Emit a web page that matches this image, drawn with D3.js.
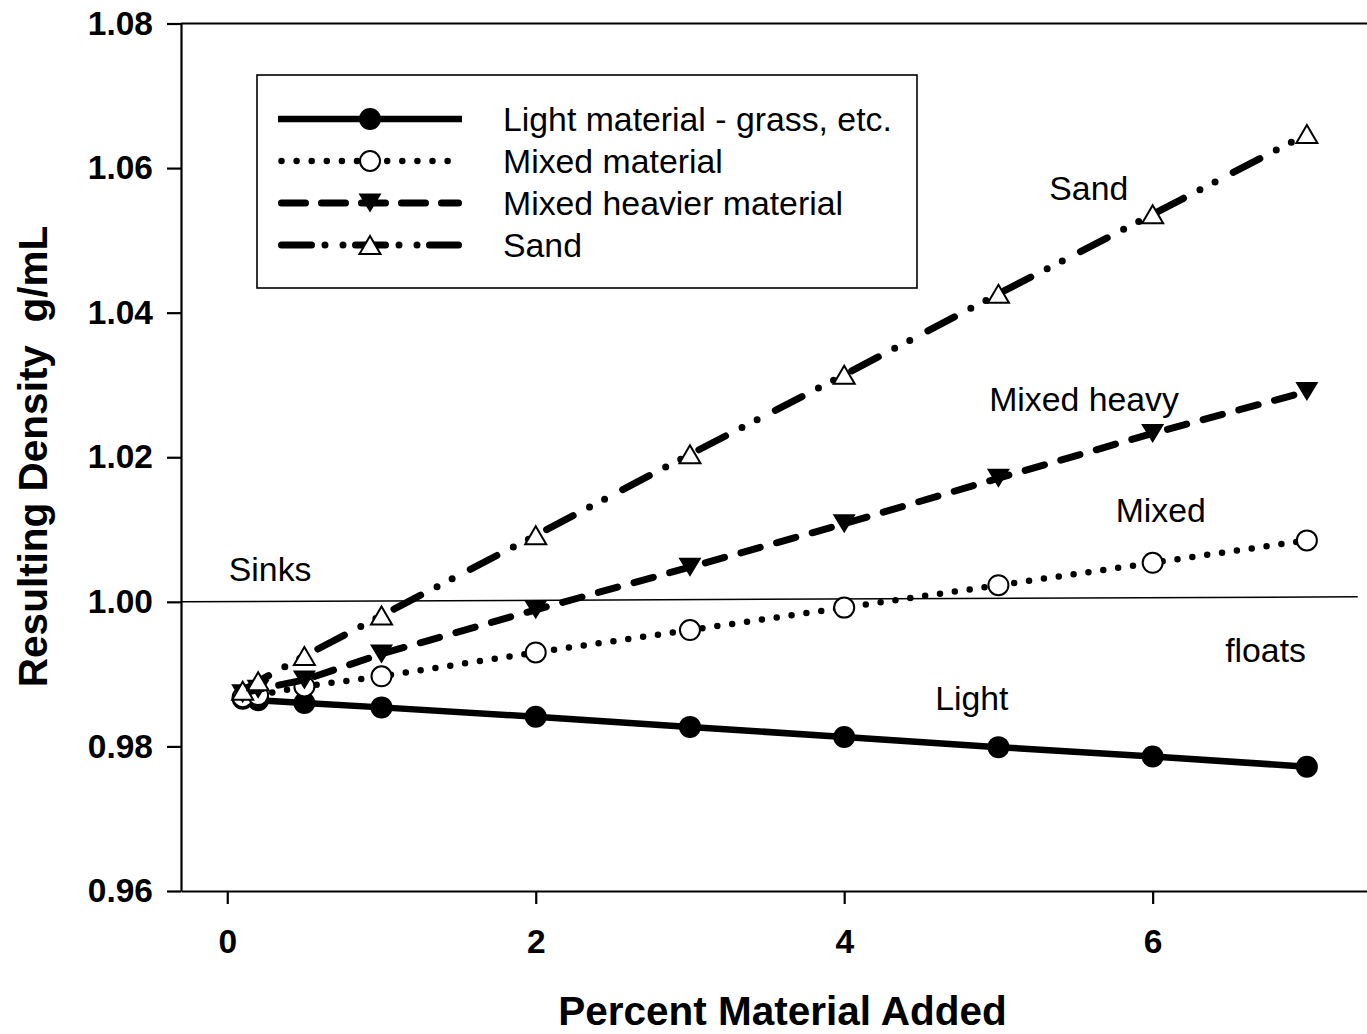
<!DOCTYPE html>
<html>
<head>
<meta charset="utf-8">
<script src="https://cdn.jsdelivr.net/npm/d3@7"></script>
<style>
  html, body { margin: 0; padding: 0; background: #fff; }
  svg { display: block; overflow: hidden; }
  text { font-family: "Liberation Sans", Arial, Helvetica, sans-serif; fill: #000; }
</style>
</head>
<body>
<svg id="chart" width="1367" height="1034"></svg>
<script>
// Percent of material added to the water sample
const percentAdded = [0.1, 0.2, 0.5, 1, 2, 3, 4, 5, 6, 7];

// Resulting density (g/mL) for each kind of material
const lightDensity = [0.9866, 0.9864, 0.9860, 0.9854, 0.9841, 0.9827, 0.9813, 0.9799, 0.9786, 0.9772];
const mixedDensity = [0.9868, 0.9871, 0.9883, 0.9897, 0.9930, 0.9961, 0.9992, 1.0023, 1.0054, 1.0085];
const heavyDensity = [0.9873, 0.9879, 0.9892, 0.9928, 0.9989, 1.0048, 1.0108, 1.0171, 1.0233, 1.0291];
const sandDensity  = [0.9877, 0.9890, 0.9925, 0.9981, 1.0092, 1.0204, 1.0314, 1.0426, 1.0536, 1.0647];

const seriesNames = ["Light material - grass, etc.", "Mixed material", "Mixed heavier material", "Sand"];

// Axis ticks
const xTicks = [0, 2, 4, 6];
const yTicks = [0.96, 0.98, 1.00, 1.02, 1.04, 1.06, 1.08];

// Density of water: the sink / float boundary
const waterLineX = [-0.3, 7.33];
const waterLineY = [1.0000, 1.0007];

// Free text notes placed in data coordinates
const noteLabels = ["Sand", "Mixed heavy", "Mixed", "Sinks", "floats", "Light"];
const noteX = [5.33, 4.94, 5.76, 0.01, 6.47, 4.59];
const noteY = [1.0556, 1.0264, 1.0110, 1.0029, 0.9917, 0.9850];

const svg = d3.select("#chart");
svg.append("rect").attr("width", 1367).attr("height", 1034).attr("fill", "#fff");

const x = d3.scaleLinear().domain([-0.3, 7.5]).range([181, 1384]);
const y = d3.scaleLinear().domain([0.96, 1.08]).range([891, 23.5]);

// Line + marker styles per series (legendDash: pattern phased for the short legend sample)
const styles = [
  { width: 6.5, dash: null, legendDash: null, cap: "butt", marker: "filledCircle" },
  { width: 6.5, dash: "0 15", legendDash: "0 15.1", cap: "round", marker: "openCircle" },
  { width: 7, dash: "20 17", legendDash: "24 16", cap: "round", marker: "downTriangle" },
  { width: 7, dash: "30 18.5 0 17 0 20.5", legendDash: "30 13.5 0 18 0 12.5", cap: "round", marker: "openUpTriangle" }
];
const seriesValues = [lightDensity, mixedDensity, heavyDensity, sandDensity];

function drawMarker(g, kind) {
  if (kind === "filledCircle") {
    g.append("circle").attr("r", 11).attr("fill", "#000");
  } else if (kind === "openCircle") {
    g.append("circle").attr("r", 10).attr("fill", "#fff").attr("stroke", "#000").attr("stroke-width", 2);
  } else if (kind === "downTriangle") {
    g.append("path").attr("d", "M-11.5,-9.5L11.5,-9.5L0,9.5Z").attr("fill", "#000");
  } else {
    g.append("path").attr("d", "M0,-9L10.5,9L-10.5,9Z").attr("fill", "#fff")
      .attr("stroke", "#000").attr("stroke-width", 2).attr("stroke-linejoin", "miter");
  }
}

// Axes frame
const axisG = svg.append("g");
const yAxis = d3.axisLeft(y).tickValues(yTicks).tickSize(14).tickSizeOuter(0).tickPadding(14)
  .tickFormat(d3.format(".2f"));
const gy = axisG.append("g").attr("transform", `translate(${x(-0.3)},0)`).call(yAxis);
const xAxis = d3.axisBottom(x).tickValues(xTicks).tickSize(13).tickSizeOuter(0).tickPadding(25)
  .tickFormat(d3.format("d"));
const gx = axisG.append("g").attr("transform", `translate(0,${y(0.96)})`).call(xAxis);
[gx, gy].forEach(g => {
  g.select(".domain").attr("stroke", "#000").attr("stroke-width", 2.2);
  g.selectAll(".tick line").attr("stroke", "#000").attr("stroke-width", 2.2);
  g.selectAll(".tick text").attr("font-size", 33.5).attr("font-weight", "bold")
    .attr("font-family", "'Liberation Sans', Arial, sans-serif").attr("fill", "#000");
});
// top border of the plot frame
axisG.append("line")
  .attr("x1", x(-0.3)).attr("x2", x(7.5)).attr("y1", y(1.08)).attr("y2", y(1.08))
  .attr("stroke", "#000").attr("stroke-width", 2.2);

// Water density reference line
svg.append("line")
  .attr("x1", x(waterLineX[0])).attr("y1", y(waterLineY[0]))
  .attr("x2", x(waterLineX[1])).attr("y2", y(waterLineY[1]))
  .attr("stroke", "#000").attr("stroke-width", 1.5);

// Series
const line = d3.line().x(d => x(d[0])).y(d => y(d[1]));
seriesValues.forEach((vals, i) => {
  const pts = percentAdded.map((p, j) => [p, vals[j]]);
  const st = styles[i];
  svg.append("path").datum(pts).attr("d", line)
    .attr("fill", "none").attr("stroke", "#000").attr("stroke-width", st.width)
    .attr("stroke-linecap", st.cap).attr("stroke-linejoin", "round")
    .attr("stroke-dasharray", st.dash);
  svg.append("g").selectAll("g").data(pts).join("g")
    .attr("transform", d => `translate(${x(d[0])},${y(d[1])})`)
    .each(function () { drawMarker(d3.select(this), st.marker); });
});

// Notes
svg.append("g").selectAll("text").data(noteLabels).join("text")
  .attr("x", (d, i) => x(noteX[i])).attr("y", (d, i) => y(noteY[i]))
  .attr("font-size", 33.8).text(d => d);

// Legend
const legend = svg.append("g");
legend.append("rect").attr("x", 257).attr("y", 75).attr("width", 660).attr("height", 213)
  .attr("fill", "#fff").attr("stroke", "#000").attr("stroke-width", 1.6);
seriesNames.forEach((name, i) => {
  const cy = 119 + i * 42;
  const st = styles[i];
  const inset = st.cap === "round" ? 3.5 : 0;
  legend.append("line").attr("x1", 278 + inset).attr("x2", 462 - inset).attr("y1", cy).attr("y2", cy)
    .attr("stroke", "#000").attr("stroke-width", st.width).attr("stroke-linecap", st.cap)
    .attr("stroke-dasharray", st.legendDash);
  drawMarker(legend.append("g").attr("transform", `translate(370,${cy})`), st.marker);
  legend.append("text").attr("x", 503).attr("y", cy + 12).attr("font-size", 33.8).text(name);
});

// Axis titles
svg.append("text").attr("x", 782.5).attr("y", 1025).attr("text-anchor", "middle")
  .attr("font-size", 40.5).attr("font-weight", "bold").text("Percent Material Added");
svg.append("text").attr("transform", "translate(47,456.5) rotate(-90)").attr("text-anchor", "middle")
  .attr("font-size", 40.5).attr("font-weight", "bold").attr("xml:space", "preserve")
  .style("white-space", "pre").text("Resulting Density  g/mL");
</script>
</body>
</html>
